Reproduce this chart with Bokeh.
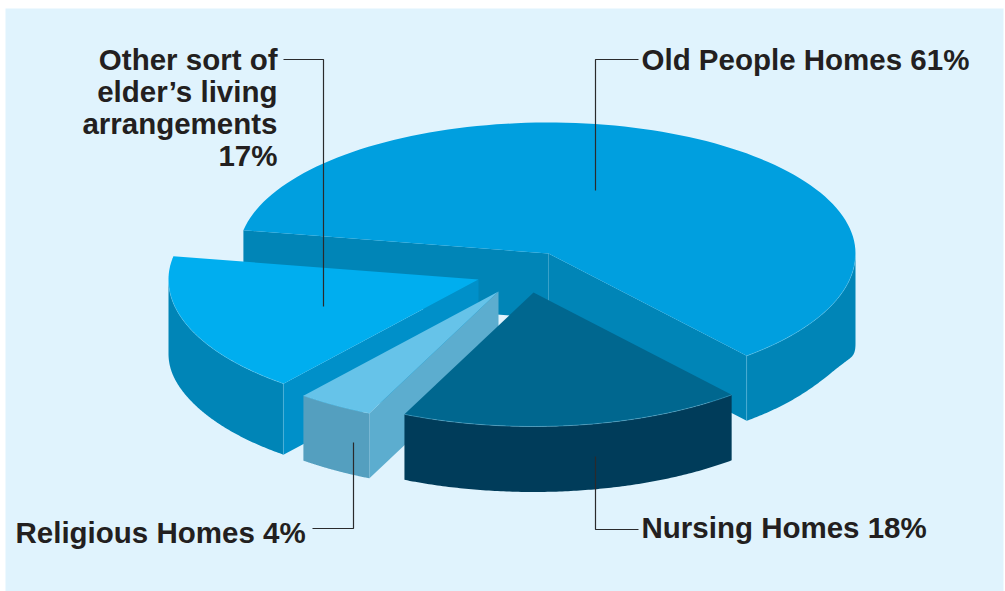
import numpy as np
from bokeh.plotting import figure
from bokeh.embed import file_html
from bokeh.resources import INLINE
from bokeh.models import Range1d
from bokeh.core.properties import value

# ---- data
categories = ["Old People Homes", "Other sort of elder's living arrangements", "Religious Homes", "Nursing Homes"]
shares = [61, 17, 4, 18]
label_lines = [["Old People Homes 61%"], ["Other sort of", "elder\u2019s living", "arrangements", "17%"],
               ["Religious Homes 4%"], ["Nursing Homes 18%"]]

# ---- styling / layout (page pixel space)
top_colors = ["#009fdf", "#00aeef", "#66c3e9", "#00678f"]
rim_colors = ["#0085b7", "#0085b7", "#549fbf", "#003c5a"]
cut_colors = ["#0085b7", "#0090c9", "#5cadcf", "#003c5a"]
apexes = [(548, 253), (478, 279), (498, 291), (533, 292)]
depths = [65, 71, 65, 65.5]
flare = [25, 3, 0, 0]
RX_RIGHT, RX_LEFT, RY_BACK, RY_FRONT = 307, 310, 131, 134
START = -49.8
INK = "#231f20"
SEAM = "#7fd0f0"

W, H = 1005, 591
p = figure(width=W, height=H, output_backend="svg", toolbar_location=None,
           x_range=Range1d(0, W), y_range=Range1d(H, 0), min_border=0,
           background_fill_color="#ffffff", border_fill_color="#ffffff", outline_line_color=None)
p.axis.visible = False
p.grid.visible = False
p.quad(left=[5], right=[1003], top=[8], bottom=[591], fill_color="#e0f3fd", line_color=None)


def arc(apex, a0, a1):
    t = np.radians(np.linspace(a0, a1, 120))
    ry = np.where(np.sin(t) < 0, RY_FRONT, RY_BACK)
    rx = np.where(np.cos(t) < 0, RX_LEFT, RX_RIGHT)
    return apex[0] + rx * np.cos(t), apex[1] - ry * np.sin(t), t


edges = np.cumsum([0] + shares) / sum(shares) * 360 + START
for i in range(len(shares)):
    a0, a1 = edges[i], edges[i + 1]
    ax, ay = apexes[i]
    d = depths[i]
    x, y, _ = arc(apexes[i], a0, a1)
    # cut faces that look at the viewer
    if i == 0:
        p.patch([ax, x[0], x[0], ax], [ay, y[0], y[0] + d, ay + d], fill_color=cut_colors[i], line_color=None)
    if i in (0, 1, 2):
        p.patch([ax, x[-1], x[-1], ax], [ay, y[-1], y[-1] + d, ay + d], fill_color=cut_colors[i], line_color=None)
    # rim (front half only)
    lo = max(a0, 180) if a0 >= 90 else a0
    hi = min(a1, 360) if a0 >= 90 else min(a1, 0)
    if hi > lo:
        rx_, ry_, t_ = arc(apexes[i], lo, hi)
        bottom = ry_ + d + flare[i] * np.abs(np.cos(t_)) ** 30
        p.patch(np.r_[rx_, rx_[::-1]], np.r_[ry_, bottom[::-1]], fill_color=rim_colors[i], line_color=None)
    # top
    p.patch(np.r_[ax, x], np.r_[ay, y], fill_color=top_colors[i], line_color=None)
    # thin lighter seams on the shape edges
    if hi > lo:
        p.line(rx_, ry_, line_color=SEAM, line_alpha=0.5, line_width=0.7)
    if i in (0, 1):
        ex = rx_[0] if i == 0 else rx_[-1]
        ey = ry_[0] if i == 0 else ry_[-1]
        p.line([ex, ex], [ey, ey + d], line_color=SEAM, line_alpha=0.4, line_width=0.7)

# leaders
leaders = [([638, 595, 595], [59, 59, 190]),
           ([283, 323, 323], [59, 59, 306]),
           ([312, 353, 353], [528, 528, 442]),
           ([595, 595, 638], [456, 529, 529])]
for lx, ly in leaders:
    p.line(lx, ly, line_color="#2a2a2c", line_width=1.2)

# labels
FS = "29.5px"
def lab(x, y, t, align="left"):
    p.text([x], [y], text=[t], text_font=value("Liberation Sans"), text_font_style="bold",
           text_font_size=FS, text_color=INK, text_align=align, text_baseline="alphabetic")

lab(641, 59, label_lines[0][0])
for t, yy in zip(label_lines[1], [59, 91, 122.5, 155]):
    lab(277, yy, t, "right")
lab(15, 532, label_lines[2][0])
lab(641, 526.5, label_lines[3][0])

open("out.html", "w").write(file_html(p, INLINE))
